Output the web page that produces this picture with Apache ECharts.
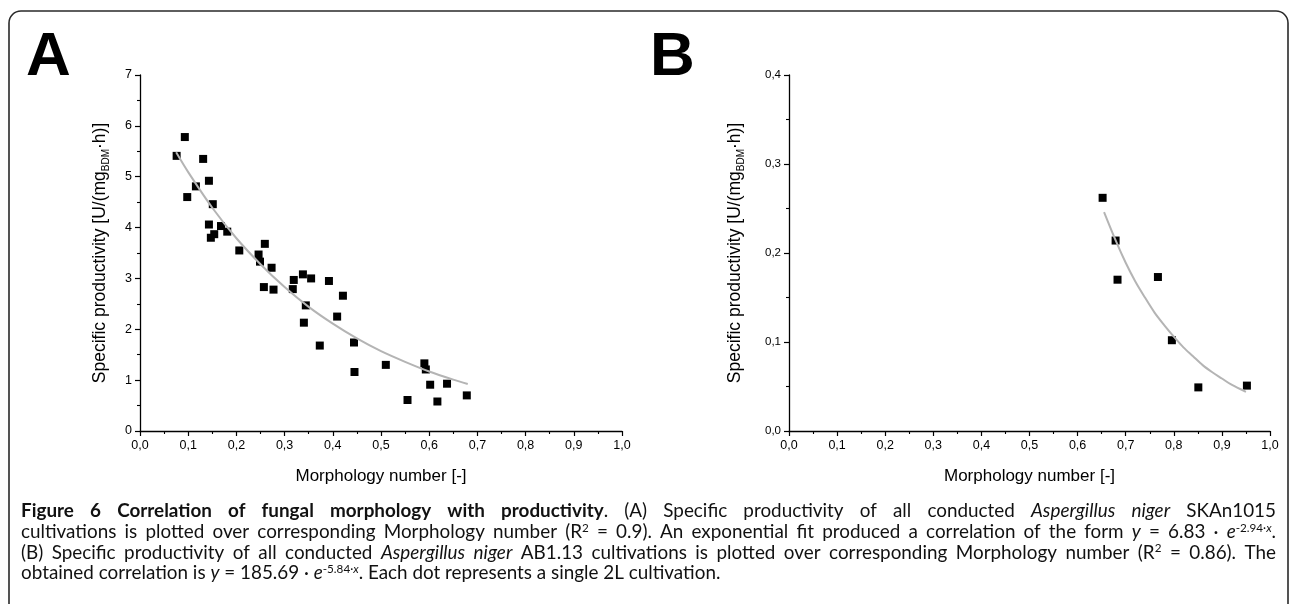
<!DOCTYPE html>
<html><head><meta charset="utf-8">
<script src="https://cdn.jsdelivr.net/npm/echarts@6/dist/echarts.min.js"></script>
<style>html,body{margin:0;padding:0;background:#fff;}#c{width:1293px;height:604px;}</style>
</head><body><div id="c"></div>
<script>
// ---------- data ----------
const xTickLabels = ['0,0','0,1','0,2','0,3','0,4','0,5','0,6','0,7','0,8','0,9','1,0'];
const yTickLabelsA = ['0','1','2','3','4','5','6','7'];
const yTickLabelsB = ['0,0','0,1','0,2','0,3','0,4'];

// Panel A: Aspergillus niger SKAn1015
const aX = [0.076,0.093,0.131,0.143,0.116,0.098,0.151,0.143,0.168,0.181,0.154,0.147,0.259,0.206,0.246,0.249,0.273,0.257,0.277,0.319,0.317,0.338,0.355,0.392,0.344,0.340,0.421,0.409,0.373,0.444,0.445,0.510,0.590,0.593,0.555,0.602,0.617,0.637,0.678];
const aY = [5.41,5.78,5.35,4.92,4.81,4.60,4.46,4.06,4.03,3.92,3.87,3.80,3.68,3.55,3.47,3.33,3.21,2.83,2.78,2.97,2.79,3.08,3.00,2.95,2.47,2.13,2.66,2.25,1.68,1.74,1.16,1.30,1.33,1.21,0.61,0.91,0.58,0.93,0.70];
const aFitX = [0.075,0.10,0.15,0.20,0.25,0.30,0.35,0.40,0.45,0.50,0.55,0.60,0.65,0.68];
const aFitY = [5.48,5.09,4.39,3.79,3.28,2.83,2.44,2.11,1.82,1.57,1.36,1.17,1.01,0.925];

// Panel B: Aspergillus niger AB1.13
const bX = [0.652,0.679,0.683,0.767,0.796,0.851,0.952];
const bY = [0.262,0.214,0.170,0.173,0.102,0.049,0.051];
const bFitX = [0.655,0.68,0.70,0.72,0.74,0.76,0.78,0.80,0.82,0.84,0.86,0.88,0.90,0.92,0.95];
const bFitY = [0.246,0.213,0.189,0.168,0.150,0.133,0.119,0.106,0.094,0.084,0.074,0.066,0.059,0.052,0.044];

const panelLetters = ['A','B'];
const xName = 'Morphology number [-]';
const yName = '{a|Specific productivity [U/(mg}{s|BDM}{a|·h)]}';

// caption (segments: style, text)
const captionLines = [
  [['b','Figure 6 Correlation of fungal morphology with productivity'],['n','. (A) Specific productivity of all conducted '],['i','Aspergillus niger'],['n',' SKAn1015']],
  [['n','cultivations is plotted over corresponding Morphology number (R'],['s','2'],['n',' = 0.9). An exponential fit produced a correlation of the form '],['i','y'],['n',' = 6.83 · '],['i','e'],['s','-2.94·'],['si','x'],['n','.']],
  [['n','(B) Specific productivity of all conducted '],['i','Aspergillus niger'],['n',' AB1.13 cultivations is plotted over corresponding Morphology number (R'],['s','2'],['n',' = 0.86). The']],
  [['n','obtained correlation is '],['i','y'],['n',' = 185.69 · '],['i','e'],['s','-5.84·'],['si','x'],['n','. Each dot represents a single 2L cultivation.']]
];

// ---------- layout ----------
const zip = (xs, ys) => xs.map((x, i) => [x, ys[i]]);
const FONT = 'Liberation Sans';
const CAP_FONT = 'Lato';
const ctx = document.createElement('canvas').getContext('2d');
const capLeft = 21, capRight = 1276, capTop = 511, capStep = 20.8, lastLineWidth = 700;

function makeStyles(fs){
  return {
    n: {fontSize: fs, fontFamily: CAP_FONT, fontWeight: 'normal', fontStyle: 'normal'},
    b: {fontSize: fs, fontFamily: CAP_FONT, fontWeight: 'bold', fontStyle: 'normal'},
    i: {fontSize: fs, fontFamily: CAP_FONT, fontWeight: 'normal', fontStyle: 'italic'},
    s: {fontSize: fs * 0.62, fontFamily: CAP_FONT, fontWeight: 'normal', fontStyle: 'normal'},
    si: {fontSize: fs * 0.62, fontFamily: CAP_FONT, fontWeight: 'normal', fontStyle: 'italic'}
  };
}
function fontStr(s){ return `${s.fontStyle} ${s.fontWeight} ${s.fontSize}px "${s.fontFamily}"`; }
function toWords(line){
  const ws = []; let cur = [];
  line.forEach(([k, t]) => {
    t.split(' ').forEach((p, j) => {
      if (j > 0) { if (cur.length) ws.push(cur); cur = []; }
      if (p) cur.push([k, p]);
    });
  });
  if (cur.length) ws.push(cur);
  return ws;
}
function lineWidth(line, styles){
  const ws = toWords(line);
  const widths = ws.map(w => w.reduce((a, [k, t]) => { ctx.font = fontStr(styles[k]); return a + ctx.measureText(t).width; }, 0));
  ctx.font = fontStr(styles.n);
  const sp = ctx.measureText(' ').width;
  return {ws, widths, sp, total: widths.reduce((a, b) => a + b, 0)};
}
// choose caption size so the (unjustified) last line has the reference width
const baseFs = 16;
const probe = lineWidth(captionLines[3], makeStyles(baseFs));
const CFS = baseFs * lastLineWidth / (probe.total + probe.sp * (probe.ws.length - 1));
const capStyles = makeStyles(CFS);
const richCap = {};
Object.keys(capStyles).forEach(k => {
  richCap[k] = Object.assign({}, capStyles[k], {fill: '#111', color: '#111', lineHeight: 20,
    verticalAlign: (k === 's' || k === 'si') ? 'top' : 'middle'});
});

const graphics = [];
captionLines.forEach((line, li) => {
  const m = lineWidth(line, capStyles);
  const justify = li < captionLines.length - 1;
  const gap = justify ? (capRight - capLeft - m.total) / (m.ws.length - 1) : m.sp;
  let x = capLeft;
  m.ws.forEach((w, wi) => {
    graphics.push({type: 'text', x: x, y: capTop + li * capStep, silent: true,
      style: {text: w.map(([k, t]) => `{${k}|${t}}`).join(''), rich: richCap, verticalAlign: 'middle', align: 'left'}});
    x += m.widths[wi] + gap;
  });
});
graphics.push({type: 'rect', silent: true, shape: {x: 9, y: 11, width: 1279, height: 700, r: 12},
  style: {fill: 'none', stroke: '#2a2a2a', lineWidth: 1.6}});
graphics.push({type: 'text', x: 26, y: 27, silent: true, style: {text: panelLetters[0], fontFamily: FONT, fontWeight: 'bold', fontSize: 62, fill: '#000'}});
graphics.push({type: 'text', x: 650, y: 27, silent: true, style: {text: panelLetters[1], fontFamily: FONT, fontWeight: 'bold', fontSize: 62, fill: '#000'}});

function xAxisCfg(gi){
  return {gridIndex: gi, type: 'value', min: 0, max: 1, interval: 0.1,
    axisLine: {show: true, onZero: false, lineStyle: {color: '#000', width: 1.3}},
    axisTick: {show: true, length: 5, lineStyle: {color: '#000', width: 1.2}},
    minorTick: {show: true, splitNumber: 2, length: 3, lineStyle: {color: '#000', width: 1.1}},
    splitLine: {show: false},
    axisLabel: {color: '#000', fontFamily: FONT, fontSize: 12.5, margin: 8, formatter: v => xTickLabels[Math.round(v * 10)]},
    name: xName, nameLocation: 'middle', nameGap: 37,
    nameTextStyle: {color: '#000', fontFamily: FONT, fontSize: 17}};
}
function yAxisCfg(gi, max, interval, labels, fs, gap){
  return {gridIndex: gi, type: 'value', min: 0, max: max, interval: interval,
    axisLine: {show: true, onZero: false, lineStyle: {color: '#000', width: 1.3}},
    axisTick: {show: true, length: 5, lineStyle: {color: '#000', width: 1.2}},
    minorTick: {show: true, splitNumber: 2, length: 3, lineStyle: {color: '#000', width: 1.1}},
    splitLine: {show: false},
    axisLabel: {color: '#000', fontFamily: FONT, fontSize: fs, margin: 8, formatter: v => labels[Math.round(v / interval)]},
    name: yName, nameLocation: 'middle', nameRotate: 90, nameGap: gap,
    nameTextStyle: {rich: {
      a: {color: '#000', fontFamily: FONT, fontSize: 17.5, lineHeight: 22},
      s: {color: '#000', fontFamily: FONT, fontSize: 10, lineHeight: 22, verticalAlign: 'bottom'}
    }}};
}

const chart = echarts.init(document.getElementById('c'), null, {renderer: 'canvas'});
chart.setOption({
  animation: false,
  backgroundColor: '#fff',
  grid: [
    {left: 140, top: 75, width: 482, height: 356, containLabel: false},
    {left: 789, top: 75, width: 481, height: 356, containLabel: false}
  ],
  xAxis: [xAxisCfg(0), xAxisCfg(1)],
  yAxis: [yAxisCfg(0, 7, 1, yTickLabelsA, 12.5, 29), yAxisCfg(1, 0.4, 0.1, yTickLabelsB, 11.5, 43)],
  series: [
    {type: 'scatter', xAxisIndex: 0, yAxisIndex: 0, data: zip(aX, aY), symbol: 'rect', symbolSize: 8, itemStyle: {color: '#000', opacity: 1}, z: 2},
    {type: 'line', xAxisIndex: 0, yAxisIndex: 0, data: zip(aFitX, aFitY), showSymbol: false, smooth: 0.3, lineStyle: {color: '#b4b4b4', width: 2}, z: 3},
    {type: 'scatter', xAxisIndex: 1, yAxisIndex: 1, data: zip(bX, bY), symbol: 'rect', symbolSize: 8, itemStyle: {color: '#000', opacity: 1}, z: 2},
    {type: 'line', xAxisIndex: 1, yAxisIndex: 1, data: zip(bFitX, bFitY), showSymbol: false, smooth: 0.3, lineStyle: {color: '#b4b4b4', width: 2}, z: 3}
  ],
  graphic: graphics
});
</script>
</body></html>
